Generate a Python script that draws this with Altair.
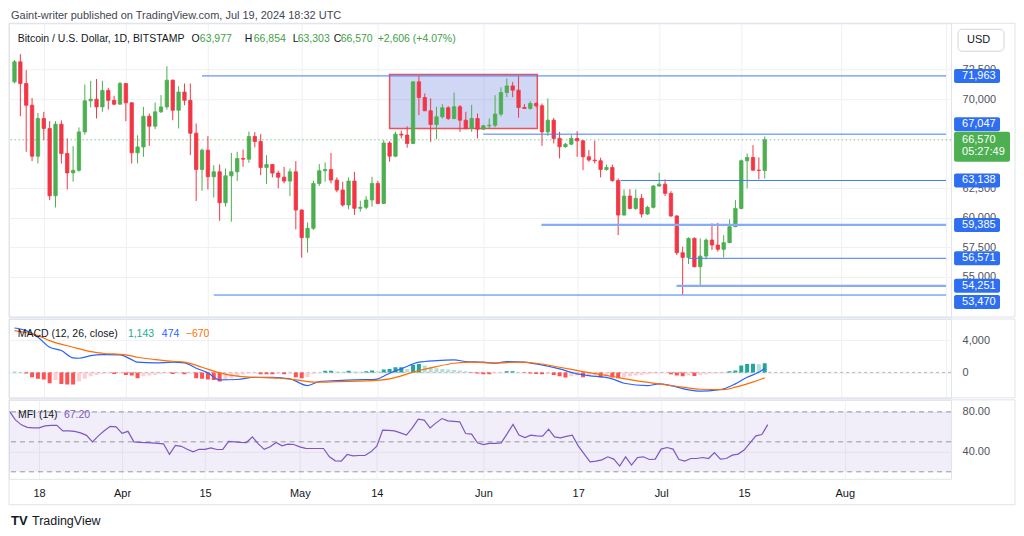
import altair as alt
import numpy as np
import pandas as pd

# ---------------- data ----------------
START = "2024-03-13"

open_ = [
    71460, 73150, 71320, 69490, 65190, 68370, 67530, 61850, 67890, 65410,
    63780, 64000, 67240, 69860, 70000, 69350, 70740, 69900, 69580, 71320,
    69690, 65470, 65970, 68560, 67720, 68930, 69350, 71600, 69070, 70600,
    69900, 67130, 64070, 65700, 63450, 63870, 61260, 63530, 63870, 64990,
    64940, 66850, 66430, 64240, 64490, 63760, 63420, 63090, 63870, 60640,
    58310, 59100, 62890, 63960, 64070, 63170, 62330, 61070, 63090, 60790,
    60870, 61490, 62890, 61200, 66300, 65190, 67050, 66970, 66260, 71460,
    70140, 69020, 67860, 68510, 69270, 68370, 69360, 68230, 67530, 68370,
    67470, 67750, 67800, 68740, 70560, 71120, 70760, 69300, 69220, 69640,
    69450, 67240, 68230, 66690, 65990, 66200, 66680, 66490, 65140, 64860,
    64800, 64070, 64240, 63130, 60220, 61820, 60780, 61630, 60310, 60870,
    62670, 62830, 62050, 60140, 57040, 56650, 58250, 55860, 56760, 58110,
    57690, 57330, 57890, 59240, 60780, 64800, 65080, 64010, 63977]
high_ = [
    73300, 73800, 72450, 70100, 68840, 68930, 68140, 68140, 68200, 66680,
    66030, 67610, 71240, 71550, 71700, 71550, 70960, 70290, 71460, 71350,
    69750, 66950, 69350, 68790, 69720, 70340, 72780, 71660, 71100, 71320,
    71320, 67950, 65830, 66880, 64430, 64490, 64150, 65470, 65560, 65750,
    67270, 67220, 67050, 65280, 64520, 63960, 64290, 64150, 64770, 60700,
    59600, 63110, 64520, 64660, 65470, 63400, 63030, 63400, 63870, 61430,
    61820, 63450, 63100, 66540, 66460, 67260, 67340, 67710, 71500, 71940,
    70480, 70060, 69360, 69580, 69420, 70560, 69500, 68930, 69520, 68790,
    67840, 68370, 70330, 71000, 71740, 71460, 71940, 69580, 69830, 69740,
    69640, 70060, 68430, 67240, 66310, 66960, 67300, 66540, 65700, 66490,
    65060, 64490, 64480, 63310, 62380, 62410, 62380, 61990, 61000, 62750,
    63790, 63230, 62240, 60220, 57550, 58340, 58340, 58250, 58250, 59520,
    59570, 58530, 59860, 61480, 64910, 65420, 66120, 65080, 66854]
low_ = [
    71330, 68560, 65560, 64770, 64570, 66540, 61480, 60860, 64570, 62380,
    63030, 63870, 67000, 69300, 68370, 68930, 69120, 69490, 69540, 68140,
    64570, 64570, 65130, 66060, 67470, 68840, 69120, 68230, 67530, 69490,
    65280, 61400, 62270, 62380, 61700, 59740, 60930, 59660, 63100, 64290,
    64630, 65930, 63590, 62830, 63400, 62470, 62890, 61820, 59010, 56620,
    57040, 58960, 62670, 63030, 62890, 62150, 60930, 60700, 60220, 60500,
    60700, 60930, 61150, 61150, 64720, 65100, 66680, 65900, 66200, 68650,
    68990, 66400, 66630, 68370, 68230, 68300, 67240, 67440, 67240, 66690,
    67400, 67530, 67620, 68550, 70170, 70170, 68430, 69170, 69120, 69310,
    66060, 66910, 66260, 65000, 65890, 66120, 65140, 64010, 64720, 64580,
    63400, 63960, 63030, 58530, 60170, 60700, 60640, 60020, 60230, 60780,
    62600, 61820, 60080, 56850, 53520, 56090, 55810, 54260, 56480, 57270,
    57130, 56650, 57850, 59200, 60700, 62470, 63980, 63230, 63303]
close_ = [
    73150, 71320, 69490, 65190, 68370, 67530, 61850, 67890, 65410, 63780,
    64000, 67240, 69860, 70000, 69350, 70740, 69900, 69580, 71320, 69690,
    65470, 65970, 68560, 67720, 68930, 69350, 71600, 69070, 70600, 69900,
    67130, 64070, 65700, 63450, 63870, 61260, 63530, 63870, 64990, 64940,
    66850, 66430, 64240, 64490, 63760, 63420, 63090, 63870, 60640, 58310,
    59100, 62890, 63960, 64070, 63170, 62330, 61070, 63090, 60790, 60870,
    61490, 62890, 61200, 66300, 65190, 67050, 66970, 66260, 71460, 70140,
    69020, 67860, 68510, 69270, 68370, 69360, 68230, 67530, 68370, 67470,
    67750, 67800, 68740, 70560, 71120, 70760, 69300, 69220, 69640, 69450,
    67240, 68230, 66690, 65990, 66200, 66680, 66490, 65140, 64860, 64800,
    64070, 64240, 63130, 60220, 61820, 60780, 61630, 60310, 60870, 62670,
    62830, 62050, 60140, 57040, 56650, 58250, 55860, 56760, 58110, 57690,
    57330, 57890, 59240, 60780, 64800, 65080, 64010, 63977, 66570]

# MACD (12, 26, close): lines read at points (day offset from START), histogram per day
macd_day = [0, 2, 4, 6, 8, 10, 11, 13, 15, 18, 20, 21, 24, 27, 29, 31, 33, 35, 38, 41,
            44, 47, 50, 52, 55, 58, 61, 62, 63, 64, 66, 69, 72, 75, 77, 80, 82, 84, 87, 89,
            93, 96, 98, 102, 104, 108, 110, 112, 115, 117, 120, 121, 123, 125, 127, 128]
macd_val = [5490, 5160, 4340, 3110, 2700, 1800, 1750, 2080, 2200, 2160, 1580, 1260, 1170, 1260, 1170, 520, -60, -920, -880, -600,
            -600, -800, -1630, -1130, -1010, -920, -880, -800, -470, -100, 430, 1260, 1460, 1540, 1340, 1260, 1130, 1340, 1260, 1050,
            430, -180, -390, -800, -1340, -1630, -1420, -1630, -2160, -2320, -2160, -2040, -1420, -600, 20, 474]
signal_day = [0, 4, 6, 10, 13, 15, 19, 21, 24, 27, 29, 32, 35, 38, 41, 45, 48, 50, 52, 55,
              60, 64, 69, 72, 75, 78, 82, 86, 89, 93, 97, 102, 106, 110, 114, 117, 121, 123, 125, 128]
signal_val = [5170, 4550, 3930, 3110, 2570, 2370, 2160, 1870, 1590, 1380, 1260, 640, -60, -470, -600, -720, -920, -1130, -1210, -1130,
              -1050, -800, 230, 720, 1130, 1260, 1170, 1260, 1130, 640, 100, -510, -1010, -1420, -1830, -2080, -2120, -1830, -1420, -670]
hist_val = [
    120, 60, -150, -600, -800, -880, -1340, -930, -1420, -1500,
    -1510, -1130, -800, -470, -310, -185, -100, -185, -100, -310,
    -390, -720, -470, -390, -310, -185, -100, -185, -100, -230,
    -100, -720, -800, -880, -925, -1130, -880, -720, -470, -270,
    -145, -100, -230, -235, -240, -185, -230, -145, -600, -720,
    -600, -185, -60, 190, 200, 100, 90, 190, 100, 95,
    145, 230, 145, 350, 430, 640, 650, 430, 930, 1050,
    840, 640, 515, 430, 350, 310, 230, 145, -60, -145,
    -230, -235, -100, -60, 145, 150, 60, -60, -145, -185,
    -230, -185, -310, -470, -640, -470, -390, -600, -470, -310,
    -640, -470, -640, -720, -600, -470, -390, -310, -230, -145,
    -100, -60, -230, -390, -470, -390, -430, -310, -230, -145,
    -100, -60, 145, 230, 845, 1050, 1060, 1020, 1143]

# MFI (14)
mfi_val = [
    80.5, 72, 67, 64.5, 64, 64, 66, 66.5, 66.5, 61,
    61, 60.5, 59, 56.5, 50, 56, 61, 65.5, 65, 58.5,
    60.5, 50, 49.5, 49.3, 49, 48.5, 48, 37.5, 46.5, 45.5,
    42.5, 40, 42.5, 42.5, 44, 42.3, 42.5, 50.5, 50, 49.5,
    49.3, 55, 48, 42.5, 45, 49.3, 46, 47.7, 47.3, 45,
    43.5, 43.3, 43.3, 43.3, 35, 31, 30.7, 37.3, 36, 36.3,
    36.3, 40, 45.7, 61.7, 61.5, 61, 59, 56.7, 64, 72.7,
    71.7, 64, 69, 73.3, 71, 70.5, 70, 58.3, 57.7, 49,
    47.3, 48.5, 48.5, 49, 58, 67.5, 56.7, 54.3, 56.7, 56,
    55.7, 62.7, 55, 54, 55.5, 56.7, 46, 38, 30, 30.7,
    32, 35, 32.7, 25.7, 35, 26.7, 34.3, 35, 32.3, 32.7,
    42.7, 44.3, 42.7, 32.3, 30.7, 33.3, 33.3, 34.3, 33.3, 39.3,
    32.7, 33.3, 36.7, 37.7, 41.7, 49, 56, 57.3, 67.2]

# horizontal levels drawn on the chart (price, start as day offset)
level_price = [71963, 67047, 63138, 59385, 56571, 54251, 53470]
level_start = [32.0, 80.0, 103.4, 89.9, 114.9, 112.95, 34.0]
level_thick = [False, False, False, True, False, True, False]

# highlighted range rectangle (day offsets, prices)
range_days = [64.0, 89.2]
range_prices = [67530, 72080]

last_price = 66570
countdown = "05:27:49"

tick_dates = ["2024-03-18", "2024-04-01", "2024-04-15", "2024-05-01", "2024-05-14", "2024-06-01",
              "2024-06-17", "2024-07-01", "2024-07-15", "2024-08-01", "2024-08-19"]
tick_labels = ["18", "Apr", "15", "May", "14", "Jun", "17", "Jul", "15", "Aug", "19"]
price_ticks = [55000, 57500, 60000, 62500, 70000, 72500]
macd_ticks = [0, 4000]
mfi_ticks = [40, 80]
mfi_bands = [80, 50, 20]

# ---------------- layout / style ----------------
FONT = "Liberation Sans"
UP, DOWN = "#4CAF50", "#F23645"
GRID, FRAME = "#EEF0F4", "#E0E3EB"
TEXT, AXTEXT = "#131722", "#50535E"
LINE_BLUE, LINE_BLUE_THICK, LABEL_BLUE = "#3D7BF7", "#86ACF6", "#2E6FF2"

W = 943
FR = 1007
X_DOMAIN = [-0.084, 158.94]
PPX = 84.31                      # price units per pixel
P_H = 294
P_DOMAIN = [76408 - P_H * PPX, 76408]
M_H = 79
M_DOMAIN = [-(M_H - 53.5) / 8.1 * 1000, 53.5 / 8.1 * 1000]
F_H = 79
F_DOMAIN = [13, 92]
label_shift_px = [0, 10, 0, 0, 0, 0, -7]

n = min(len(open_), len(high_), len(low_), len(close_))
dates = pd.date_range(START, periods=n, freq="D")
day = np.arange(n)
candles = pd.DataFrame({"day": day, "date": dates.strftime("%Y-%m-%d"),
                        "open": open_[:n], "high": high_[:n], "low": low_[:n], "close": close_[:n]})
candles["col"] = np.where(candles["close"] >= candles["open"], UP, DOWN)

tick_days = [int((pd.Timestamp(d) - pd.Timestamp(START)).days) for d in tick_dates]
label_expr = ("[" + ",".join(f"'{t}'" for t in tick_labels) + "][indexof(["
              + ",".join(str(d) for d in tick_days) + "], datum.value)]")

xs = alt.Scale(domain=X_DOMAIN, nice=False, zero=False)
ps = alt.Scale(domain=P_DOMAIN, nice=False, zero=False)
ms = alt.Scale(domain=M_DOMAIN, nice=False, zero=False)
fs = alt.Scale(domain=F_DOMAIN, nice=False, zero=False)

x_grid_axis = alt.Axis(values=tick_days, labels=False, ticks=False, domain=False, grid=True,
                       gridColor=GRID, title=None, minExtent=0, maxExtent=0, zindex=0)
x_lab_axis = alt.Axis(values=tick_days, labelExpr=label_expr, ticks=False, domain=False, grid=True,
                      gridColor=GRID, title=None, labelPadding=9, minExtent=26, maxExtent=26,
                      labelFontSize=11, labelColor=TEXT, labelFont=FONT, zindex=0,
                      labelOverlap=False, labelFlush=False)


def yaxis(values, fmt):
    return alt.Axis(orient="right", values=values, format=fmt, ticks=False, domain=False, grid=True,
                    gridColor=GRID, labelPadding=11, labelAlign="left", labelBaseline="middle",
                    title=None, zindex=0, labelOverlap=False, labelFontSize=11,
                    labelColor=AXTEXT, labelFont=FONT)


p_axis = yaxis(price_ticks, ",.0f")
m_axis = yaxis(macd_ticks, ",.0f")
f_axis = yaxis(mfi_ticks, ".2f")


def XG(field):
    return alt.X(field, type="quantitative", scale=xs, axis=x_grid_axis)


def XL(field):
    return alt.X(field, type="quantitative", scale=xs, axis=x_lab_axis)


def YP(field):
    return alt.Y(field, type="quantitative", scale=ps, axis=p_axis)


def YM(field):
    return alt.Y(field, type="quantitative", scale=ms, axis=m_axis)


def YF(field):
    return alt.Y(field, type="quantitative", scale=fs, axis=f_axis)


def txt(s, x, y, color=TEXT, size=10.5, weight="normal"):
    return alt.Chart(pd.DataFrame({"t": [s]})).mark_text(
        align="left", baseline="middle", font=FONT, fontSize=size, fontWeight=weight, color=color
    ).encode(x=alt.value(x), y=alt.value(y), text="t:N")


def box(x0, x1, y0, y1, fill="transparent", stroke=FRAME, sw=1, radius=0):
    return alt.Chart(pd.DataFrame({"k": [0]})).mark_rect(
        fill=fill, stroke=stroke, strokeWidth=sw, cornerRadius=radius
    ).encode(x=alt.value(x0), x2=alt.value(x1), y=alt.value(y0), y2=alt.value(y1))


# ---------------- header ----------------
header = alt.layer(
    txt("Gaint-writer published on TradingView.com, Jul 19, 2024 18:32 UTC", 2, 7, "#434651", 11)
).properties(width=W, height=12, view=alt.ViewBackground(stroke="transparent"))

# ---------------- price pane ----------------
rng = pd.DataFrame({"x0": [range_days[0]], "x1": [range_days[1]],
                    "y0": [range_prices[0]], "y1": [range_prices[1]]})
range_rect = alt.Chart(rng).mark_rect(fill="#3F5FD8", fillOpacity=0.25, stroke="#F0505A",
                                      strokeWidth=1.5).encode(
    x=XG("x0"), x2="x1", y=YP("y0"), y2="y1")

lv = pd.DataFrame({"price": level_price, "start": level_start, "end": X_DOMAIN[1],
                   "thick": level_thick, "shift": label_shift_px,
                   "txt": [f"{p:,}" for p in level_price]})
lv["c"] = lv["price"] + lv["shift"] * PPX
lv["top"] = lv["c"] + 7 * PPX
lv["bot"] = lv["c"] - 7 * PPX

levels_thin = alt.Chart(lv[~lv["thick"]]).mark_rule(color=LINE_BLUE, strokeWidth=1).encode(
    x=XG("start"), x2="end", y=YP("price"))
levels_thick = alt.Chart(lv[lv["thick"]]).mark_rule(color=LINE_BLUE_THICK, strokeWidth=2.2).encode(
    x=XG("start"), x2="end", y=YP("price"))

cur = pd.DataFrame({"price": [last_price], "top": [last_price + 8 * PPX],
                    "bot": [last_price - 22 * PPX], "txt": [f"{last_price:,}"], "cd": [countdown]})
cur_line = alt.Chart(cur).mark_rule(color=UP, strokeDash=[1.5, 2.5], opacity=0.7).encode(y=YP("price"))

wicks = alt.Chart(candles).mark_rule(clip=True, strokeWidth=1).encode(
    x=XG("day"), y=YP("low"), y2="high", color=alt.Color("col:N", scale=None))
bodies = alt.Chart(candles).mark_bar(size=3.4, clip=True, strokeWidth=0.8).encode(
    x=XG("day"), y=YP("open"), y2="close",
    color=alt.Color("col:N", scale=None), stroke=alt.Stroke("col:N", scale=None))

lab_boxes = alt.Chart(lv).mark_rect(color=LABEL_BLUE, cornerRadius=2).encode(
    x=alt.value(946), x2=alt.value(992), y=YP("top"), y2="bot")
lab_text = alt.Chart(lv).mark_text(align="left", baseline="middle", color="white",
                                   font=FONT, fontSize=11).encode(
    x=alt.value(954), y=YP("c"), text="txt:N")
cur_box = alt.Chart(cur).mark_rect(color=UP, cornerRadius=2).encode(
    x=alt.value(946), x2=alt.value(1002), y=YP("top"), y2="bot")
cur_text = alt.Chart(cur).mark_text(align="left", baseline="middle", color="white",
                                    font=FONT, fontSize=11).encode(
    x=alt.value(954), y=YP("price"), text="txt:N")
cur_cd = alt.Chart(cur).mark_text(align="left", baseline="middle", color="white",
                                  font=FONT, fontSize=11, dy=12.5).encode(
    x=alt.value(954), y=YP("price"), text="cd:N")

G = "#43A047"
legend_p = [
    txt("Bitcoin / U.S. Dollar, 1D, BITSTAMP", 8.7, 16),
    txt("O", 182.7, 16), txt("63,977", 191, 16, G),
    txt("H", 236, 16), txt("66,854", 245, 16, G),
    txt("L", 284, 16), txt("63,303", 289, 16, G),
    txt("C", 325, 16), txt("66,570", 332, 16, G),
    txt("+2,606 (+4.07%)", 369, 16, G),
]
usd = [box(950, 996, 6, 28, fill="white", stroke="#D1D4DC", radius=4),
       txt("USD", 959, 17, TEXT, 11)]

price = alt.layer(
    range_rect, cur_line, wicks, bodies, levels_thin, levels_thick,
    lab_boxes, lab_text, cur_box, cur_text, cur_cd,
    *legend_p, *usd,
    box(0, FR, 0, P_H),
).properties(width=W, height=P_H)

# ---------------- MACD pane ----------------
h = pd.Series(hist_val[:n], dtype=float)
prev = h.shift(1).fillna(h.iloc[0] + 1)
hcol = np.where(h >= 0, np.where(h >= prev, "#26A69A", "#B2DFDB"),
                np.where(h < prev, "#FF5252", "#FFCDD2"))
hist_df = pd.DataFrame({"day": day[:len(h)], "hist": h, "zero": 0.0, "col": hcol})
macd_df = pd.DataFrame({"day": macd_day, "v": macd_val})
sig_df = pd.DataFrame({"day": signal_day, "v": signal_val})

m_zero = alt.Chart(pd.DataFrame({"v": [0]})).mark_rule(
    color="#B2B5BE", strokeDash=[3, 3]).encode(y=YM("v"))
m_hist = alt.Chart(hist_df).mark_bar(size=4, clip=True).encode(
    x=XG("day"), y=YM("hist"), y2="zero", color=alt.Color("col:N", scale=None))
m_line = alt.Chart(macd_df).mark_line(color="#2962FF", strokeWidth=1.2, clip=True,
                                      interpolate="monotone").encode(x=XG("day"), y=YM("v"))
s_line = alt.Chart(sig_df).mark_line(color="#FF6D00", strokeWidth=1.2, clip=True,
                                     interpolate="monotone").encode(x=XG("day"), y=YM("v"))
legend_m = [txt("MACD (12, 26, close)", 8.7, 15),
            txt("1,143", 119, 15, "#22AB94"),
            txt("474", 153, 15, "#2962FF"),
            txt("\u2212670", 177, 15, "#FF6D00")]

macd = alt.layer(m_zero, m_hist, m_line, s_line, *legend_m, box(0, FR, 0, M_H)).properties(
    width=W, height=M_H)

# ---------------- MFI pane ----------------
mfi_df = pd.DataFrame({"day": day[:len(mfi_val)], "v": mfi_val[:n]})
band = alt.Chart(pd.DataFrame({"hi": [mfi_bands[0]], "lo": [mfi_bands[-1]]})).mark_rect(
    color="#7E57C2", opacity=0.1).encode(x=alt.value(0), x2=alt.value(W), y=YF("hi"), y2="lo")
band_lines = alt.Chart(pd.DataFrame({"v": mfi_bands})).mark_rule(
    color="#9598A1", strokeDash=[5, 4], strokeWidth=1).encode(y=YF("v"))
mfi_line = alt.Chart(mfi_df).mark_line(color="#7E57C2", strokeWidth=1.2, clip=True).encode(
    x=XL("day"), y=YF("v"))
legend_f = [txt("MFI (14)", 9, 15), txt("67.20", 55, 15, "#7E57C2")]

mfi = alt.layer(
    band, band_lines, mfi_line, *legend_f,
    box(0, FR, 0, F_H + 26),
).properties(width=W, height=F_H)

# ---------------- footer ----------------
footer = alt.layer(
    txt("TV", 2, 14, TEXT, 13, "bold"),
    txt("TradingView", 23, 14, TEXT, 12.5),
).properties(width=W, height=24, view=alt.ViewBackground(stroke="transparent"))

chart = alt.vconcat(header, price, macd, mfi, footer, spacing=0, padding=0).configure_view(
    stroke=FRAME).configure_axis(labelFont=FONT)

chart.save("out.html", embed_options={"renderer": "svg", "actions": False})
